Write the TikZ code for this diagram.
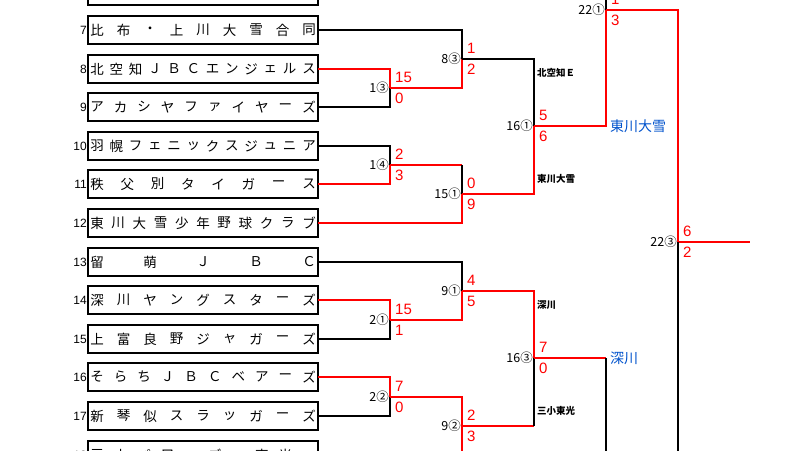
\documentclass[tikz,border=0pt]{standalone}
\usepackage{fontspec}
\setmainfont{Noto Sans CJK JP}
\newfontfamily\numf{Liberation Sans}
\begin{document}
\begin{tikzpicture}[x=1pt,y=-1pt,
  box/.style={draw,line width=1.6pt},
  bl/.style={line width=1.3pt,black},
  rd/.style={line width=1.3pt,red},
  sc/.style={red,font=\numf\fontsize{15}{15}\selectfont,anchor=west,inner sep=0pt},
  mt/.style={font=\fontsize{12.5}{12.5}\selectfont,anchor=east,inner sep=1pt},
  nm/.style={font=\numf\fontsize{12}{12}\selectfont,anchor=east,inner sep=1pt},
  lb/.style={font=\bfseries\fontsize{9.5}{9.5}\selectfont,anchor=west,inner sep=0pt},
  win/.style={font=\fontsize{14}{14}\selectfont,anchor=west,inner sep=0pt,text=blue!60!cyan!80!black}]
\useasboundingbox (0,0) rectangle (800,450);
\clip (0,0) rectangle (800,450);
\newcommand\tm[4]{%
  \draw[box] (88,#1-14) rectangle (318,#1+14);
  \node[nm] at (88,#1) {#2};
  \foreach \c [count=\i] in {#4} {\node[font=\fontsize{13.5}{13.5}\selectfont,inner sep=0pt] at ({97+(\i-1)*212/(#3-1)},#1) {\c};}}
\newcommand\scs[4]{\node[sc] at (#1+5,#2-11) {#3};\node[sc] at (#1+5,#2+10) {#4};}
% boxes
\draw[box] (88,-30) rectangle (318,5);
\tm{30}{7}{9}{比,布,・,上,川,大,雪,合,同}
\tm{69}{8}{12}{北,空,知,Ｊ,Ｂ,Ｃ,エ,ン,ジ,ェ,ル,ス}
\tm{107}{9}{10}{ア,カ,シ,ヤ,フ,ァ,イ,ヤ,ー,ズ}
\tm{146}{10}{12}{羽,幌,フ,ェ,ニ,ッ,ク,ス,ジ,ュ,ニ,ア}
\tm{184}{11}{8}{秩,父,別,タ,イ,ガ,ー,ス}
\tm{223}{12}{11}{東,川,大,雪,少,年,野,球,ク,ラ,ブ}
\tm{262}{13}{5}{留,萌,Ｊ,Ｂ,Ｃ}
\tm{300}{14}{9}{深,川,ヤ,ン,グ,ス,タ,ー,ズ}
\tm{339}{15}{9}{上,富,良,野,ジ,ャ,ガ,ー,ズ}
\tm{377}{16}{10}{そ,ら,ち,Ｊ,Ｂ,Ｃ,ベ,ア,ー,ズ}
\tm{416}{17}{9}{新,琴,似,ス,ラ,ッ,ガ,ー,ズ}
\tm{455}{18}{10}{三,小,パ,ワ,ー,ズ,・,東,光,ー}
% round 1
\draw[bl] (318,30) -| (462,59);
\draw[rd] (318,69) -| (390,88);
\draw[bl] (318,107) -| (390,88);
\draw[bl] (318,146) -| (390,165);
\draw[rd] (318,184) -| (390,165);
\draw[rd] (390,88) -| (462,59);
\draw[rd] (390,165) -- (462,165);
\draw[bl] (462,165) -- (462,194);
\draw[rd] (318,223) -| (462,194);
\node[mt] at (390,88) {1③}; \scs{390}{88}{15}{0}
\node[mt] at (390,165) {1④}; \scs{390}{165}{2}{3}
\node[mt] at (462,59) {8③}; \scs{462}{59}{1}{2}
\node[mt] at (462,194) {15①}; \scs{462}{194}{0}{9}
\draw[bl] (462,59) -| (534,126);
\draw[rd] (462,194) -| (534,126);
\node[mt] at (534,126) {16①}; \scs{534}{126}{5}{6}
\node[lb] at (537,73) {北空知Ｅ};
\node[lb] at (537,179) {東川大雪};
\draw[rd] (534,126) -| (606,10);
\node[win] at (610,126) {東川大雪};
\draw[bl] (606,10) -- (606,-20);
\node[mt] at (606,10) {22①}; \scs{606}{10}{1}{3}
\draw[rd] (606,10) -| (678,242);
\draw[rd] (678,242) -- (750,242);
\draw[bl] (678,242) -- (678,460);
\node[mt] at (678,242) {22③}; \scs{678}{242}{6}{2}
% bottom half
\draw[bl] (318,262) -| (462,291);
\draw[rd] (318,300) -| (390,320);
\draw[bl] (318,339) -| (390,320);
\draw[rd] (390,320) -| (462,291);
\node[mt] at (390,320) {2①}; \scs{390}{320}{15}{1}
\node[mt] at (462,291) {9①}; \scs{462}{291}{4}{5}
\draw[rd] (318,377) -| (390,397);
\draw[bl] (318,416) -| (390,397);
\node[mt] at (390,397) {2②}; \scs{390}{397}{7}{0}
\draw[rd] (390,397) -| (462,460);
\node[mt] at (462,426) {9②}; \scs{462}{426}{2}{3}
\draw[rd] (462,291) -| (534,358);
\draw[rd] (462,426) -- (534,426);
\draw[bl] (534,426) -- (534,358);
\node[mt] at (534,358) {16③}; \scs{534}{358}{7}{0}
\node[lb] at (537,305) {深川};
\node[lb] at (537,411) {三小東光};
\draw[rd] (534,358) -- (606,358);
\draw[bl] (606,358) -- (606,460);
\node[win] at (610,358) {深川};
\end{tikzpicture}
\end{document}
